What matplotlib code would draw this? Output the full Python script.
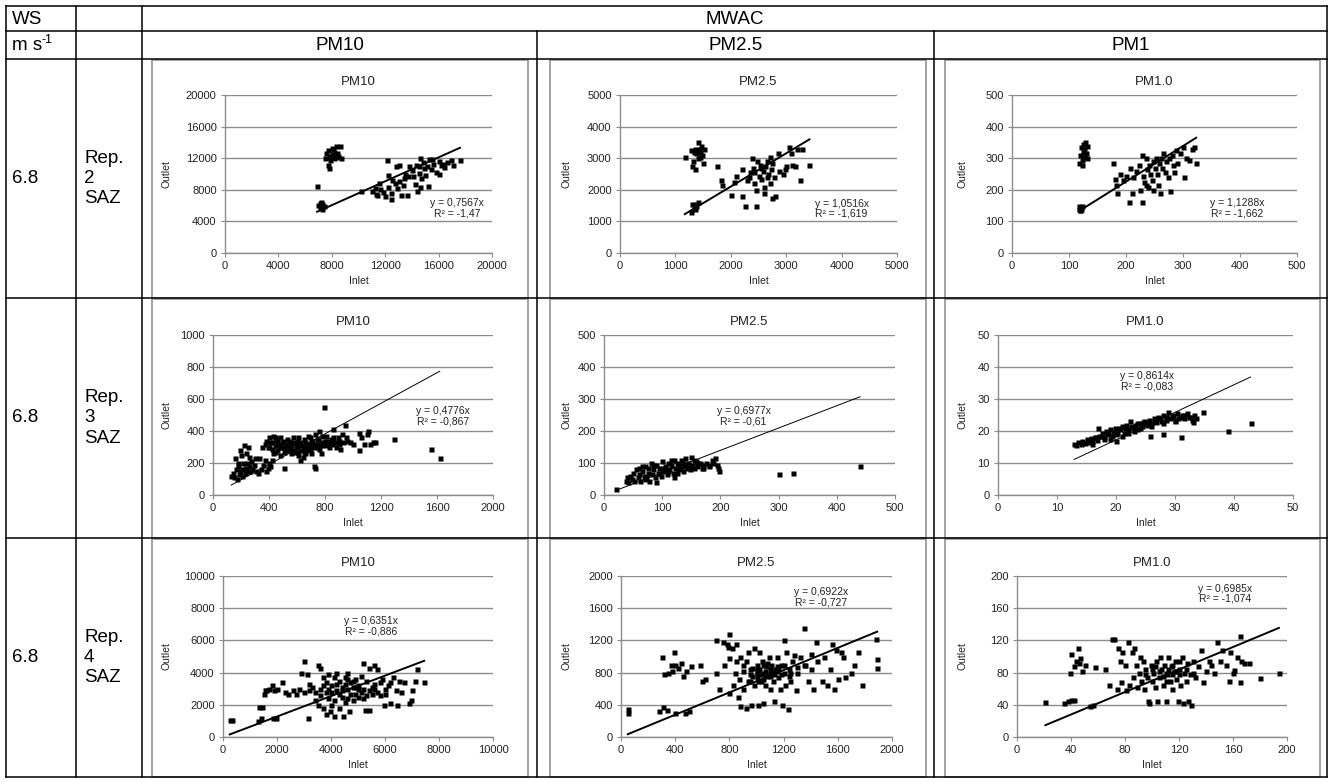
import matplotlib.pyplot as plt
from matplotlib.patches import Rectangle

plt.rcParams['font.family'] = ['Liberation Sans', 'DejaVu Sans']

W, H = 1330, 782

# table text
ws_values = ['6.8', '6.8', '6.8']
rep_labels = ['Rep.\n2\nSAZ', 'Rep.\n3\nSAZ', 'Rep.\n4\nSAZ']
col_headers = ['PM10', 'PM2.5', 'PM1']
chart_titles = ['PM10', 'PM2.5', 'PM1.0']

# inlet/outlet pairs
rep2_pm10 = [(6900, 8450), (7000, 6100), (7100, 6300), (7200, 6500), (7300, 6200), (7150, 5800),
             (7400, 6000), (7250, 5600), (7500, 12000), (7700, 13000), (7800, 12200), (7900, 11800),
             (8000, 12500), (8100, 13200), (8200, 12000), (8300, 13500), (8400, 12700), (8600, 13600),
             (7700, 11200), (7800, 10800), (8500, 12300), (7600, 12600), (8200, 12800), (8000, 13300),
             (7900, 12300), (8300, 12100), (8700, 12000),
             (10200, 7900), (11000, 7800), (11200, 8200), (11300, 7500), (11500, 8800), (11600, 8100),
             (11800, 7700), (12000, 7200), (12100, 11800), (12200, 9900), (12200, 8400), (12400, 7600),
             (12400, 6800), (12500, 9300), (12700, 8900), (12900, 8200), (13000, 11200), (13000, 9100),
             (13200, 7400), (13300, 8600), (13400, 9500), (13500, 10000), (13700, 9800), (13800, 11000),
             (14000, 10500), (14100, 9700), (14200, 8700), (14300, 11100), (14400, 7800), (14500, 10100),
             (14600, 12000), (14600, 8300), (14700, 9500), (14800, 11500), (14900, 10800), (15000, 9900),
             (15100, 11000), (15200, 8500), (15300, 11900), (15400, 10600), (15600, 11300), (15800, 10300),
             (16000, 11700), (16000, 10000), (16200, 11200), (16400, 10900), (16600, 11500), (16900, 11800),
             (17100, 11200), (17600, 11800), (12800, 11000), (13600, 7400), (11400, 7300), (15500, 11900),
             (14500, 11000), (16300, 11300)]

rep2_pm25 = [(1170, 3050), (1280, 3250), (1300, 2750), (1320, 2900), (1350, 2650), (1380, 3150),
             (1400, 3500), (1420, 3300), (1440, 3050), (1460, 3400), (1480, 3100), (1500, 2850),
             (1510, 3300), (1360, 3300), (1400, 3000), (1330, 3200), (1450, 3200),
             (1290, 1300), (1300, 1550), (1330, 1450), (1360, 1550), (1380, 1500), (1400, 1600), (1350, 1400),
             (1750, 2750), (1830, 2300), (1850, 2150), (2000, 1850), (2050, 2250), (2100, 2450),
             (2200, 2650), (2200, 1800), (2250, 1500), (2300, 2300), (2350, 2550), (2380, 3000),
             (2400, 2700), (2420, 2200), (2450, 2000), (2450, 1500), (2480, 2900), (2500, 2450),
             (2520, 2800), (2550, 2350), (2580, 2600), (2600, 2100), (2600, 1900), (2620, 2750),
             (2650, 2900), (2680, 2500), (2700, 3050), (2700, 2200), (2720, 2650), (2750, 2850),
             (2780, 2400), (2800, 1800), (2850, 3150), (2870, 2600), (2950, 2500), (2970, 2650),
             (3000, 2750), (3050, 3350), (3080, 3150), (3100, 2800), (3150, 2750), (3200, 3300),
             (3250, 2300), (3280, 3300), (3420, 2800), (2550, 2700), (2420, 2550), (2330, 2400),
             (2650, 2400), (2750, 1750)]

rep2_pm1 = [(118, 285), (120, 310), (121, 335), (122, 278), (124, 320), (125, 345), (126, 305),
            (127, 330), (128, 350), (130, 315), (131, 300), (132, 340), (123, 295),
            (117, 140), (118, 148), (119, 136), (120, 145), (121, 140), (122, 150), (120, 135),
            (178, 285), (180, 235), (182, 215), (185, 190), (190, 250), (195, 230), (200, 245),
            (205, 160), (207, 270), (210, 190), (213, 240), (218, 260), (222, 280), (225, 200),
            (228, 160), (228, 310), (230, 245), (232, 225), (235, 300), (237, 265), (238, 210),
            (240, 280), (242, 250), (245, 230), (247, 290), (250, 270), (252, 300), (255, 250),
            (257, 215), (258, 285), (260, 190), (262, 300), (264, 270), (265, 315), (268, 255),
            (270, 290), (273, 240), (275, 300), (278, 195), (280, 310), (283, 280), (285, 255),
            (288, 325), (290, 285), (295, 315), (300, 335), (302, 240), (305, 300), (310, 295),
            (315, 330), (320, 335), (323, 285), (248, 200), (235, 215)]

rep3_pm10 = [(130, 120), (140, 140), (150, 110), (160, 230), (165, 160), (170, 100), (175, 200),
             (180, 180), (185, 130), (190, 280), (195, 150), (200, 250), (205, 160), (210, 120),
             (215, 200), (220, 310), (225, 170), (230, 140), (235, 260), (240, 200), (245, 150),
             (250, 300), (255, 180), (260, 240), (265, 150), (270, 210), (280, 160), (290, 190),
             (300, 230), (310, 150), (320, 140), (330, 230), (340, 160), (350, 300),
             (360, 190), (370, 220), (380, 150), (390, 170), (400, 200), (410, 180), (420, 220), (430, 260),
             (370, 320), (380, 340), (390, 300), (400, 360), (410, 330), (420, 290), (430, 370),
             (440, 310), (450, 350), (460, 280), (470, 320), (480, 360), (490, 300), (500, 340),
             (510, 170), (510, 270), (520, 320), (530, 350), (540, 290), (550, 330), (560, 310),
             (570, 360), (580, 270), (590, 300), (600, 340), (610, 250), (620, 220), (630, 310),
             (640, 290), (650, 350), (660, 260), (670, 320), (680, 370), (690, 290), (700, 340),
             (710, 310), (720, 180), (730, 170), (730, 380), (740, 300), (750, 350), (760, 400),
             (770, 260), (780, 330), (790, 550), (800, 310), (810, 370), (820, 340), (830, 300),
             (840, 350), (850, 320), (860, 410), (870, 330), (880, 300), (890, 360), (900, 340),
             (910, 290), (920, 380), (930, 330), (940, 440), (950, 360), (960, 340), (980, 330),
             (1000, 320), (1040, 280), (1040, 390), (1060, 360), (1080, 320), (1100, 380), (1110, 400),
             (1120, 320), (1140, 330), (1160, 330), (1290, 350), (1560, 290), (1620, 230),
             (400, 300), (450, 310), (500, 300), (550, 300), (600, 300), (650, 300), (700, 320),
             (750, 320), (800, 340), (850, 340), (440, 270), (480, 250), (520, 280), (560, 260),
             (600, 270), (680, 280), (720, 300), (760, 290), (700, 260), (640, 240), (580, 330),
             (620, 330), (660, 330), (740, 350), (780, 370), (820, 320), (860, 360), (900, 320),
             (470, 300), (530, 300), (590, 320), (610, 360), (670, 300), (690, 360), (710, 340),
             (730, 320), (770, 310), (790, 330), (810, 330), (880, 330), (440, 360), (420, 330),
             (460, 340), (490, 330), (540, 340), (570, 280), (630, 280), (650, 270)]

rep3_pm25 = [(20, 20), (38, 45), (40, 55), (42, 40), (45, 60), (48, 50), (50, 70), (52, 45), (55, 80),
             (58, 55), (60, 65), (62, 45), (65, 75), (68, 60), (70, 90), (72, 55), (75, 70), (78, 45),
             (80, 100), (82, 65), (85, 80), (88, 55), (90, 95), (90, 40), (92, 70), (95, 85), (98, 60),
             (100, 105), (102, 75), (105, 90), (108, 65), (110, 100), (112, 80), (115, 95), (118, 70),
             (120, 110), (120, 55), (122, 85), (125, 100), (128, 80), (130, 95), (132, 110), (135, 75),
             (138, 90), (140, 115), (142, 85), (145, 100), (148, 80), (150, 120), (152, 95), (155, 85),
             (158, 105), (160, 90), (165, 100), (168, 85), (170, 95), (175, 100), (180, 90), (185, 110),
             (188, 100), (190, 115), (195, 95), (196, 85), (197, 75), (60, 85), (70, 50), (85, 95),
             (95, 70), (105, 80), (115, 110), (125, 70), (135, 100), (145, 90), (155, 110), (100, 85),
             (110, 75), (130, 85), (140, 95), (150, 90), (160, 100), (170, 85), (180, 95), (75, 85),
             (65, 90), (300, 65), (325, 70), (440, 90)]

rep3_pm1 = [(12.9, 16), (13.2, 15.5), (13.5, 16.5), (14, 15.8), (14.3, 17), (14.7, 16.2), (15, 17.5),
            (15.3, 16.5), (15.7, 17.8), (16, 17), (16.4, 18.2), (16.8, 17.2), (17, 21), (17.2, 18.5),
            (17.6, 19.5), (18, 18), (18.3, 20), (18.7, 19), (19, 20.5), (19.4, 18.5), (19.8, 21),
            (20, 17), (20.2, 19.5), (20.6, 20.5), (21, 21.5), (21.3, 19.5), (21.7, 22), (22, 20.5),
            (22.4, 23), (22.8, 21), (23.2, 22), (23.6, 20.5), (24, 22.5), (24.4, 21.5), (24.8, 23),
            (25.2, 22), (25.6, 23.5), (25.8, 18.5), (26, 22.5), (26.4, 24), (26.8, 22.8), (27.2, 24.5),
            (27.6, 23), (27.9, 19), (28, 25), (28.4, 23.5), (28.8, 26), (29.2, 24), (29.6, 25),
            (30, 23.5), (30.4, 25.5), (30.8, 24.5), (31.1, 18), (31.2, 25), (31.6, 24), (32, 25.5),
            (32.4, 24.5), (32.8, 23.5), (33.2, 25), (33.5, 24), (34.8, 26), (39, 20), (42.8, 22.5),
            (15.5, 17), (16.5, 18), (17.5, 18.5), (18.5, 19.5), (19.5, 19.8), (20.5, 21), (21.5, 20.8),
            (22.5, 21.5), (23.5, 22.5), (24.5, 22.8), (25.5, 22.8), (26.5, 23.2), (27.5, 24),
            (28.5, 24.5), (29.5, 24.8), (30.5, 24.2), (31.5, 25), (32.5, 24.5), (33, 22.8),
            (19, 17.5), (21, 18.5), (23, 20), (16, 16), (18, 17.5), (20, 19), (22, 19.5), (24, 21),
            (26, 21.5), (28, 22.5), (30, 23)]

rep4_pm10 = [(250, 1050), (350, 1050), (1300, 1000), (1400, 1150), (1350, 1850), (1450, 1850),
             (1500, 2700), (1550, 2900), (1600, 2950), (1700, 3000), (1800, 3200), (1850, 1200),
             (1900, 2900), (1950, 1200), (2000, 3000), (2200, 3400), (2300, 2800), (2400, 2700),
             (2600, 2900), (2700, 2700), (2800, 3000), (2900, 4000), (3000, 4700), (3000, 2800),
             (3100, 3900), (3150, 1200), (3200, 3300), (3300, 3100), (3400, 2800), (3500, 4500),
             (3500, 2000), (3600, 4300), (3600, 3000), (3700, 1800), (3700, 3700), (3800, 3400),
             (3800, 1400), (3900, 3900), (3900, 2400), (3950, 1600), (4000, 3200), (4000, 2000),
             (4100, 3700), (4100, 1300), (4200, 2900), (4200, 4000), (4300, 3500), (4300, 1800),
             (4400, 3100), (4400, 2500), (4450, 1300), (4500, 3700), (4500, 2200), (4600, 3000),
             (4600, 4000), (4650, 1600), (4700, 2700), (4700, 3400), (4800, 3100), (4800, 2300),
             (4900, 3600), (4900, 2700), (5000, 3200), (5000, 2500), (5100, 3800), (5100, 2800),
             (5200, 4600), (5200, 3000), (5250, 1650), (5300, 3500), (5300, 2600), (5400, 4300),
             (5400, 1700), (5500, 3100), (5500, 2700), (5600, 4500), (5600, 3300), (5700, 4200),
             (5700, 2800), (5800, 3400), (5900, 3600), (5950, 2000), (6000, 3000), (6100, 3200),
             (6200, 2100), (6300, 3700), (6400, 2900), (6450, 2000), (6500, 3500), (6600, 2800),
             (6700, 3400), (6900, 2100), (6950, 2300), (7000, 2900), (7100, 3500), (7200, 4200),
             (7450, 3400), (3400, 2300), (3800, 2800), (4200, 3300), (4600, 3600), (5000, 3000),
             (5400, 2900), (5800, 2600), (6200, 3400), (4400, 2900), (4800, 3500), (3600, 2600),
             (4000, 2800), (3200, 2900), (5200, 2400), (4600, 2400), (3900, 3000), (4300, 2700),
             (5600, 3000), (6000, 2700), (4100, 2300), (4500, 3300), (3700, 3200), (4900, 3100)]

rep4_pm25 = [(50, 300), (55, 350), (280, 320), (300, 1000), (310, 370), (320, 780), (340, 340),
             (350, 800), (370, 900), (380, 820), (390, 1060), (400, 300), (400, 900), (420, 860),
             (440, 920), (460, 760), (470, 300), (480, 820), (500, 320), (520, 880), (580, 890),
             (600, 700), (620, 720), (700, 800), (700, 1200), (720, 600), (750, 1180), (760, 900),
             (780, 1150), (790, 1120), (800, 1280), (800, 980), (800, 550), (820, 1100), (830, 650),
             (840, 800), (850, 1150), (850, 950), (860, 500), (870, 720), (880, 1000), (880, 380),
             (900, 820), (900, 600), (920, 950), (920, 360), (940, 1050), (940, 700), (950, 780),
             (960, 400), (970, 860), (980, 1100), (980, 650), (1000, 780), (1000, 900), (1010, 400),
             (1020, 840), (1020, 1060), (1030, 700), (1040, 950), (1050, 800), (1050, 420), (1060, 650),
             (1070, 880), (1080, 760), (1090, 1000), (1100, 800), (1100, 600), (1110, 900), (1120, 700),
             (1130, 450), (1140, 850), (1150, 1000), (1160, 750), (1170, 600), (1180, 900), (1190, 400),
             (1200, 1200), (1200, 800), (1210, 650), (1220, 1050), (1230, 350), (1240, 850), (1250, 700),
             (1260, 950), (1280, 1020), (1290, 580), (1300, 870), (1320, 1000), (1350, 1360), (1360, 900),
             (1380, 700), (1400, 1030), (1400, 850), (1420, 600), (1440, 1180), (1450, 950), (1480, 700),
             (1500, 1000), (1520, 650), (1540, 850), (1560, 1150), (1570, 600), (1590, 1080), (1600, 720),
             (1620, 1050), (1640, 1000), (1650, 750), (1700, 800), (1720, 900), (1750, 1050), (1780, 650),
             (1880, 1220), (1890, 970), (1890, 860),
             (900, 900), (950, 850), (1000, 820), (1050, 900), (1100, 850), (1150, 820), (1200, 900),
             (1250, 800), (950, 700), (1000, 750), (1050, 720), (1100, 760), (1150, 880), (1000, 850),
             (1060, 820), (1120, 820), (1180, 780), (1240, 760), (1300, 800), (1350, 900), (1030, 780),
             (1080, 920), (1130, 780), (970, 760), (1010, 700), (1070, 770), (1160, 860)]

rep4_pm1 = [(21, 43), (35, 42), (38, 45), (40, 46), (42, 46), (39, 80), (40, 103), (42, 88), (44, 95),
            (45, 110), (46, 92), (47, 98), (48, 82), (50, 90), (54, 38), (56, 40), (58, 87), (65, 85),
            (68, 65), (70, 122), (72, 122), (74, 60), (75, 110), (76, 95), (77, 68), (78, 105), (80, 90),
            (81, 58), (82, 118), (83, 65), (85, 105), (86, 75), (87, 110), (88, 90), (89, 62), (90, 80),
            (91, 100), (92, 70), (93, 95), (94, 60), (95, 85), (96, 75), (97, 45), (98, 42), (99, 90),
            (100, 70), (101, 80), (102, 62), (103, 95), (104, 45), (105, 75), (106, 100), (107, 85),
            (108, 65), (109, 90), (110, 45), (111, 78), (112, 100), (113, 70), (114, 88), (115, 60),
            (116, 82), (117, 95), (118, 72), (119, 45), (120, 85), (121, 65), (122, 100), (123, 42),
            (124, 80), (125, 70), (126, 92), (127, 45), (128, 78), (129, 40), (130, 95), (132, 75),
            (134, 88), (136, 108), (138, 68), (140, 82), (142, 95), (144, 90), (146, 80), (148, 118),
            (150, 95), (152, 108), (155, 90), (157, 70), (158, 105), (160, 80), (161, 83), (163, 100),
            (165, 68), (165, 125), (166, 95), (168, 92), (172, 92), (180, 73), (194, 80),
            (100, 85), (105, 82), (110, 80), (115, 78), (120, 78), (125, 85), (130, 80), (110, 70),
            (115, 90), (120, 95), (95, 78), (108, 76), (118, 82), (112, 84), (102, 88)]

series = [rep2_pm10, rep2_pm25, rep2_pm1,
          rep3_pm10, rep3_pm25, rep3_pm1,
          rep4_pm10, rep4_pm25, rep4_pm1]
slopes = [0.7567, 1.0516, 1.1288, 0.4776, 0.6977, 0.8614, 0.6351, 0.6922, 0.6985]
equations = ['y = 0,7567x\nR² = -1,47', 'y = 1,0516x\nR² = -1,619', 'y = 1,1288x\nR² = -1,662',
             'y = 0,4776x\nR² = -0,867', 'y = 0,6977x\nR² = -0,61', 'y = 0,8614x\nR² = -0,083',
             'y = 0,6351x\nR² = -0,886', 'y = 0,6922x\nR² = -0,727', 'y = 0,6985x\nR² = -1,074']
x_max = [20000, 5000, 500, 2000, 500, 50, 10000, 2000, 200]
x_step = [4000, 1000, 100, 400, 100, 10, 2000, 400, 40]
y_max = [20000, 5000, 500, 1000, 500, 50, 10000, 2000, 200]
y_step = [4000, 1000, 100, 200, 100, 10, 2000, 400, 40]

# layout (pixels): plot area left/right per panel, top/bottom per row
plot_lr = [(225, 492), (620, 897), (1012, 1297),
           (213, 493), (604, 895), (998, 1293),
           (223, 493), (621, 892), (1017, 1287)]
row_tb = [(95, 253), (335, 495), (576, 737)]
eq_pos = [(0.87, 0.285), (0.80, 0.28), (0.79, 0.285),
          (0.82, 0.49), (0.48, 0.49), (0.505, 0.71),
          (0.55, 0.69), (0.74, 0.87), (0.77, 0.89)]
ylabel_x = [172, 572, 967]

row_lines = [6, 31, 59, 298, 538, 777]
col_lines = [6, 76, 142, 537, 934, 1327]
frames_x = [(152, 528), (550, 926), (945, 1320)]

fig = plt.figure(figsize=(W / 100, H / 100), dpi=100)

# table grid
bg = fig.add_axes([0, 0, 1, 1], zorder=0)
bg.set_xlim(0, W)
bg.set_ylim(H, 0)
bg.axis('off')
for y in row_lines:
    bg.plot([col_lines[0], col_lines[-1]], [y, y], color='black', lw=1.1)
for i, x in enumerate(col_lines):
    top = row_lines[1] if i in (3, 4) else row_lines[0]
    bg.plot([x, x], [top, row_lines[-1]], color='black', lw=1.1)

tfs = 13.5
bg.text(12, 19, 'WS', fontsize=tfs, va='center')
bg.text(12, 46, 'm s', fontsize=tfs, va='center')
bg.text(42, 40, '-1', fontsize=9, va='center')
bg.text((col_lines[2] + col_lines[-1]) / 2, 19, 'MWAC', fontsize=tfs, ha='center', va='center')
for j, h in enumerate(col_headers):
    bg.text((col_lines[2 + j] + col_lines[3 + j]) / 2, 46, h, fontsize=tfs, ha='center', va='center')
for r in range(3):
    yc = (row_lines[2 + r] + row_lines[3 + r]) / 2
    bg.text(12, yc, ws_values[r], fontsize=tfs, va='center')
    bg.text(84, yc, rep_labels[r], fontsize=tfs, va='center', linespacing=1.25)
    for (fx0, fx1) in frames_x:
        bg.add_patch(Rectangle((fx0, row_lines[2 + r] + 1), fx1 - fx0, row_lines[3 + r] - row_lines[2 + r] - 1,
                               fill=False, edgecolor='#9a9a9a', lw=1.3))

grey = '#8c8c8c'
ink = '#222222'
for k in range(9):
    r, c = divmod(k, 3)
    x0, x1 = plot_lr[k]
    t, b = row_tb[r]
    ax = fig.add_axes([x0 / W, 1 - b / H, (x1 - x0) / W, (b - t) / H], zorder=2)
    ax.set_facecolor('none')

    xs = [p[0] for p in series[k]]
    ys = [p[1] for p in series[k]]
    ax.plot(xs, ys, ls='none', marker='s', ms=3.6, color='black', mec='none', zorder=3)
    lx = [min(xs), max(xs)]
    ax.plot(lx, [slopes[k] * v for v in lx], color='black',
            lw=0.7 if r == 1 else 1.4, zorder=4)

    ax.set_xlim(0, x_max[k])
    ax.set_ylim(0, y_max[k])
    ax.set_xticks(range(0, x_max[k] + 1, x_step[k]))
    ax.set_yticks(range(0, y_max[k] + 1, y_step[k]))
    ax.yaxis.grid(True, color=grey, lw=1)
    ax.set_axisbelow(True)
    for s in ('top', 'right'):
        ax.spines[s].set_visible(False)
    for s in ('left', 'bottom'):
        ax.spines[s].set_color(grey)
        ax.spines[s].set_linewidth(1)
    ax.tick_params(direction='out', length=3, width=0.8, color=grey, labelsize=8,
                   labelcolor=ink, pad=3)

    ax.set_title(chart_titles[c], fontsize=9.5, pad=7, color=ink)
    ax.set_xlabel('Inlet', fontsize=7.5, color=ink)
    ax.set_ylabel('Outlet', fontsize=7.5, color=ink)
    ax.xaxis.set_label_coords(0.5, -23 / (b - t))
    ax.yaxis.set_label_coords((ylabel_x[c] - x0) / (x1 - x0), 0.5)

    ax.text(eq_pos[k][0], eq_pos[k][1], equations[k], transform=ax.transAxes,
            fontsize=7.5, ha='center', va='center', color=ink, linespacing=1.05)

fig.savefig('out.png', dpi=100)
